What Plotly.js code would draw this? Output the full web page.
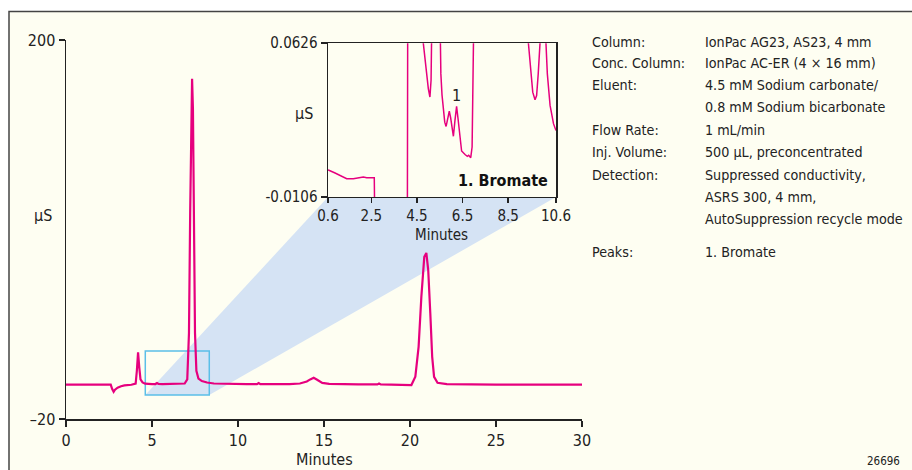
<!DOCTYPE html>
<html>
<head>
<meta charset="utf-8">
<script src="https://cdn.plot.ly/plotly-3.0.1.min.js"></script>
<style>html,body{margin:0;padding:0;background:#fff;}#chart{width:912px;height:470px;}</style>
</head>
<body>
<div id="chart"></div>
<script>
// ---- data ----
const time = [0, 1, 2, 2.6, 2.68, 2.77, 2.85, 3.0, 3.2, 3.4, 3.8, 4.05, 4.12, 4.19, 4.26, 4.33, 4.45, 4.6, 5.0, 5.2, 5.29, 5.38, 5.6, 6.0, 6.5, 6.9, 7.05, 7.15, 7.22, 7.28, 7.33, 7.38, 7.44, 7.5, 7.58, 7.7, 7.9, 8.2, 8.6, 9.5, 10.5, 11.1, 11.2, 11.3, 12, 13.0, 13.6, 14.0, 14.2, 14.4, 14.6, 14.9, 15.3, 16, 17, 18.1, 18.2, 18.3, 19, 19.8, 20.08, 20.31, 20.5, 20.66, 20.83, 20.95, 21.06, 21.18, 21.29, 21.4, 21.6, 22.14, 23, 25, 27, 29.2, 29.4, 29.6, 30];
const signal = [0, 0, 0, 0, -2.5, -4.2, -3.0, -1.8, -1.0, -0.5, -0.1, 0.5, 8, 18.7, 10, 3, 1.2, 0.5, 0.3, 0.3, 0.9, 0.3, 0.2, 0.2, 0.3, 0.6, 3, 30, 100, 165, 177.5, 160, 90, 30, 8, 3.5, 2, 1.2, 0.6, 0.3, 0.2, 0.2, 0.9, 0.2, 0.1, 0.2, 0.6, 1.8, 3.0, 3.9, 2.8, 1.0, 0.4, 0.2, 0.1, 0.1, 0.6, 0.1, 0.1, 0.1, -0.3, 4.5, 21.9, 50.9, 74.1, 76.4, 66.4, 41.4, 16.1, 4.5, 1.0, 0.3, 0.1, 0, 0, 0, 0.4, 0, 0];

const insetTime = [0.6, 0.64, 0.91, 1.2, 1.42, 1.71, 2.0, 2.15, 2.3, 2.59, 2.63, 2.66, 4.08, 4.1, 4.7, 4.78, 4.9, 5.0, 5.07, 5.12, 5.15, 5.2, 5.48, 5.51, 5.55, 5.6, 5.66, 5.72, 5.78, 5.85, 5.92, 5.98, 6.04, 6.1, 6.17, 6.24, 6.3, 6.35, 6.46, 6.61, 6.71, 6.77, 6.86, 6.92, 6.95, 6.98, 7.05, 9.3, 9.39, 9.49, 9.58, 9.68, 9.75, 9.82, 9.87, 9.95, 10.1, 10.16, 10.22, 10.34, 10.49, 10.6];
const insetSignal = [0.0022, 0.0021, 0.0008, -0.0008, -0.0019, -0.0019, -0.0016, -0.0011, -0.0014, -0.0011, -0.0014, -0.03, -0.03, 0.1, 0.1, 0.0626, 0.050, 0.041, 0.037, 0.045, 0.07, 0.1, 0.1, 0.0626, 0.048, 0.038, 0.030, 0.025, 0.023, 0.026, 0.0303, 0.027, 0.021, 0.0183, 0.026, 0.0325, 0.027, 0.0211, 0.0113, 0.0096, 0.0088, 0.0093, 0.0081, 0.0132, 0.048, 0.0626, 0.1, 0.1, 0.0626, 0.048, 0.0393, 0.0357, 0.0377, 0.048, 0.0626, 0.1, 0.1, 0.0626, 0.048, 0.033, 0.0243, 0.021];

const mainXTicks = [0, 5, 10, 15, 20, 25, 30];
const mainYTicks = [200, -20];
const mainYTickText = ["200", "–20"];
const insetXTicks = [0.6, 2.5, 4.5, 6.5, 8.5, 10.6];
const insetXTickText = ["0.6", "2.5", "4.5", "6.5", "8.5", "10.6"];
const insetYTicks = [0.0626, -0.0106];
const insetYTickText = ["0.0626", "-0.0106"];

const zoomBoxX = [4.61, 8.33];
const zoomBoxY = [-6.1, 19.4];

const peakLabel = "1";
const peakLabelTime = 6.24;
const peakLabelValue = 0.0375;
const peakName = "1. Bromate";

const panelLabels = ["Column:", "Conc. Column:", "Eluent:", "", "Flow Rate:", "Inj. Volume:", "Detection:", "", "", "Peaks:"];
const panelValues = ["IonPac AG23, AS23, 4 mm", "IonPac AC-ER (4 × 16 mm)", "4.5 mM Sodium carbonate/", "0.8 mM Sodium bicarbonate", "1 mL/min", "500 µL, preconcentrated", "Suppressed conductivity,", "ASRS 300, 4 mm,", "AutoSuppression recycle mode", "1. Bromate"];
const figureId = "26696";

// ---- layout helpers (pixel -> paper) ----
const L = 66, R = 330, T = 39.5, B = 51, W = 912, H = 470;
const PW = W - L - R, PH = H - T - B;
const px = v => (v - L) / PW;
const py = v => (H - B - v) / PH;

const FONT = "'DejaVu Sans Condensed', 'Liberation Sans Narrow', sans-serif";
const MAG = "#e6007e";
const INK = "#222";

const inX0 = 328, inX1 = 556, inY0 = 196.7, inY1 = 42.7;

const traces = [
  {x: time, y: signal, type: "scatter", mode: "lines", line: {color: MAG, width: 2.2}, xaxis: "x", yaxis: "y", hoverinfo: "none"},
  {x: insetTime, y: insetSignal, type: "scatter", mode: "lines", line: {color: MAG, width: 1.5}, xaxis: "x2", yaxis: "y2", hoverinfo: "none"}
];

const bx0 = zoomBoxX[0] / 30, bx1 = zoomBoxX[1] / 30, by0 = (zoomBoxY[0] + 20) / 220;

const shapes = [
  {type: "rect", xref: "paper", yref: "paper", x0: px(9), x1: px(916), y0: py(474), y1: py(11), fillcolor: "#fefef2", line: {color: "#444", width: 1.5}, layer: "below"},
  {type: "path", xref: "paper", yref: "paper", layer: "below", line: {width: 0}, fillcolor: "#d5e3f4",
   path: `M ${bx0} ${by0} L ${px(inX0)} ${py(inY0)} L ${px(inX1)} ${py(inY0)} L ${bx1} ${by0} Z`},
  {type: "rect", xref: "x", yref: "y", x0: zoomBoxX[0], x1: zoomBoxX[1], y0: zoomBoxY[0], y1: zoomBoxY[1], line: {color: "#5bbfe8", width: 1.5}, fillcolor: "rgba(0,0,0,0)", layer: "below"}
];

const txt = (text, x, y, opts) => Object.assign({text, x: px(x), y: py(y), xref: "paper", yref: "paper", showarrow: false, xanchor: "left", yanchor: "middle", font: {family: FONT, size: 14.2, color: INK}}, opts || {});

const lineY = [42, 63, 85, 107, 130, 152, 175, 197, 219, 252];
const annotations = [];
panelLabels.forEach((s, i) => { if (s) annotations.push(txt(s, 590, lineY[i])); });
panelValues.forEach((s, i) => annotations.push(txt(s, 703, lineY[i])));
annotations.push(txt("µS", 43, 215, {xanchor: "center", font: {family: FONT, size: 16, color: INK}}));
annotations.push(txt("Minutes", 324, 460, {xanchor: "center", font: {family: FONT, size: 16, color: INK}}));
annotations.push(txt("µS", 304, 113, {xanchor: "center", font: {family: FONT, size: 16, color: INK}}));
annotations.push(txt("Minutes", 441, 235, {xanchor: "center", font: {family: FONT, size: 15, color: INK}}));
annotations.push(txt(figureId, 902, 461, {xanchor: "right", font: {family: FONT, size: 11.5, color: INK}}));
annotations.push({text: peakLabel, x: peakLabelTime, y: peakLabelValue, xref: "x2", yref: "y2", showarrow: false, xanchor: "center", yanchor: "middle", font: {family: FONT, size: 16, color: INK}});
annotations.push(txt("<b>" + peakName + "</b>", 550, 180, {xanchor: "right", font: {family: FONT, size: 16, color: "#111"}}));

const axCommon = {showgrid: false, zeroline: false, showline: true, linecolor: INK, linewidth: 1.5, ticks: "outside", ticklen: 6, tickwidth: 1.5, tickcolor: INK, tickfont: {family: FONT, size: 16, color: INK}, fixedrange: true};

const layout = {
  width: W, height: H,
  margin: {l: L, r: R, t: T, b: B, pad: 0},
  paper_bgcolor: "#ffffff",
  plot_bgcolor: "rgba(0,0,0,0)",
  showlegend: false,
  xaxis: Object.assign({}, axCommon, {domain: [0, 1], range: [0, 30], tickmode: "array", tickvals: mainXTicks, anchor: "y"}),
  yaxis: Object.assign({}, axCommon, {domain: [0, 1], range: [-20, 200], tickmode: "array", tickvals: mainYTicks, ticktext: mainYTickText, anchor: "x"}),
  xaxis2: Object.assign({}, axCommon, {domain: [px(inX0), px(inX1)], range: [0.6, 10.6], tickmode: "array", tickvals: insetXTicks, ticktext: insetXTickText, anchor: "y2", mirror: true, ticklen: 5, tickfont: {family: FONT, size: 15, color: INK}}),
  yaxis2: Object.assign({}, axCommon, {domain: [py(inY0), py(inY1)], range: [-0.0106, 0.0626], tickmode: "array", tickvals: insetYTicks, ticktext: insetYTickText, anchor: "x2", mirror: true, tickfont: {family: FONT, size: 15, color: INK}}),
  shapes, annotations
};

Plotly.newPlot("chart", traces, layout, {staticPlot: true, displayModeBar: false});
</script>
</body>
</html>
